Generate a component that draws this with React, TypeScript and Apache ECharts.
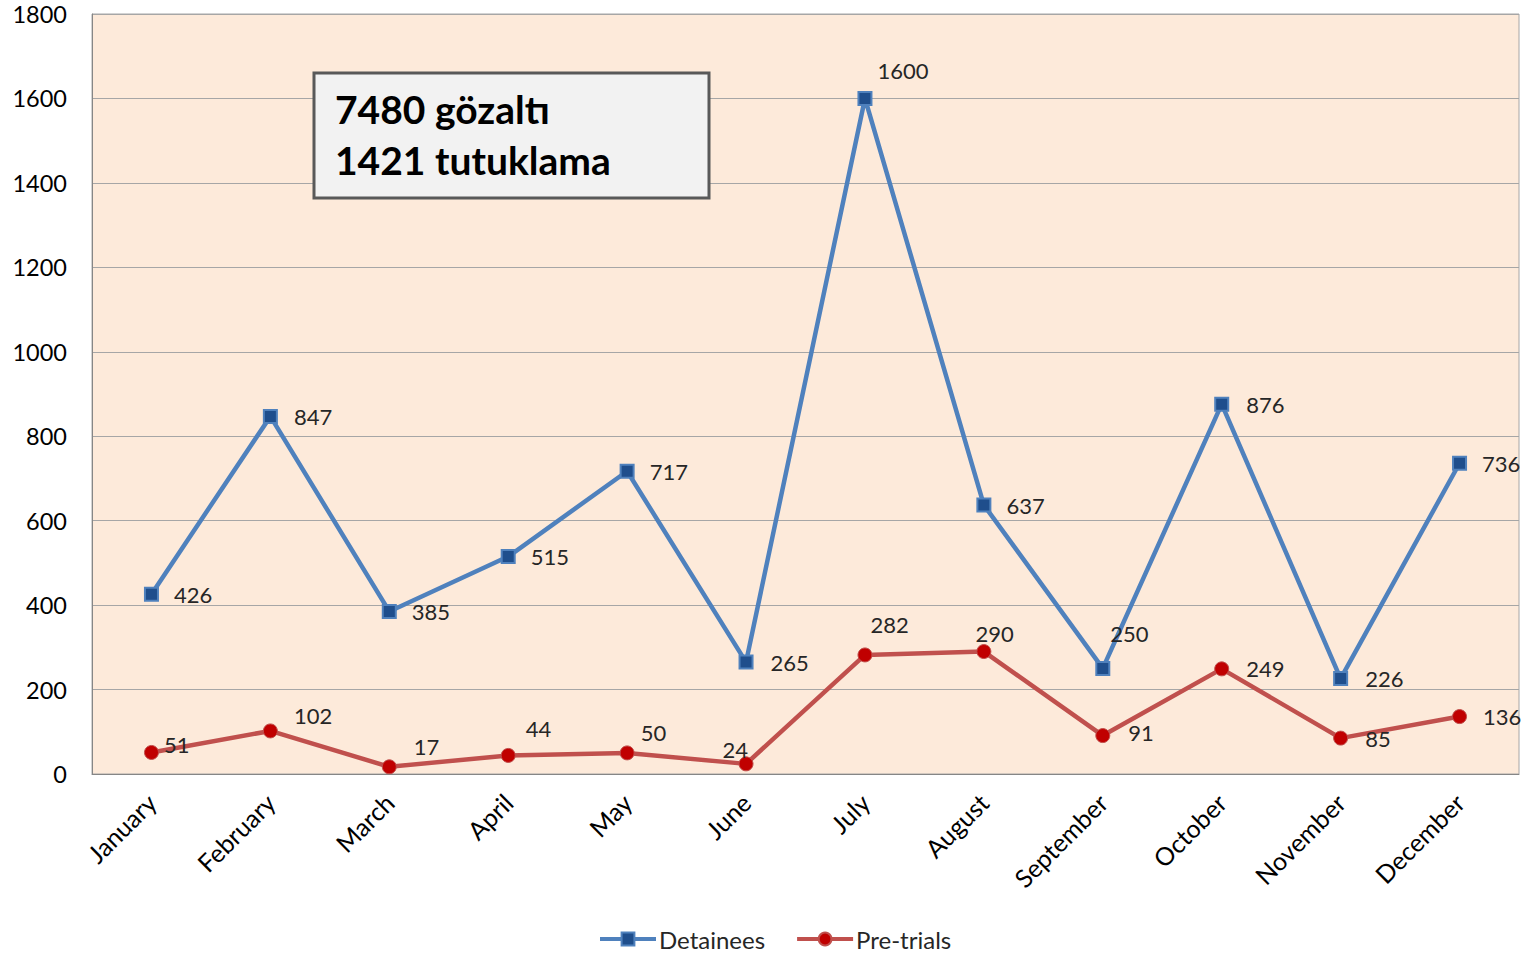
import React, { useEffect, useRef } from "react";
import * as echarts from "echarts";

const months = ["January", "February", "March", "April", "May", "June", "July", "August", "September", "October", "November", "December"];
const detainees = [426, 847, 385, 515, 717, 265, 1600, 637, 250, 876, 226, 736];
const preTrials = [51, 102, 17, 44, 50, 24, 282, 290, 91, 249, 85, 136];
const yTicks = { min: 0, max: 1800, interval: 200 };
const boxLines = ["7480 gözaltı", "1421 tutuklama"];

// label offsets (style, not data)
const detDx = [21, 22, 21, 21, 21, 23, 11, 21, 6, 23, 23, 21];
const detDy = [0, 0, 0, 0, 0, 0, -28, 0, -35, 0, 0, 0];
const preDx = [11, 22, 23, 16, 12, -25, 4, -10, 24, 23, 23, 22];
const preDy = [-8, -15, -20, -27, -20, -14, -30, -18, -3, 0, 0, 0];

const FONT = "Lato, 'Noto Sans', sans-serif";

export default function App() {
  const ref = useRef<HTMLDivElement>(null);
  useEffect(() => {
    if (!ref.current) return;
    const chart = echarts.init(ref.current, null, { renderer: "svg" });
    const mkData = (vals: number[], dx: number[], dy: number[]) =>
      vals.map((v, i) => ({
        value: v,
        label: { offset: [dx[i] - 6, dy[i]] },
      }));
    const labelBase = {
      show: true,
      position: "right",
      distance: 0,
      color: "#262626",
      fontSize: 22,
      fontFamily: FONT,
    };
    chart.setOption({
      animation: false,
      textStyle: { fontFamily: FONT },
      grid: {
        left: 92,
        right: 7,
        top: 14,
        bottom: 183,
        show: true,
        backgroundColor: "#FDEADA",
        borderColor: "#A6A6A6",
        borderWidth: 1,
      },
      legend: {
        left: 593,
        top: 922,
        itemWidth: 56,
        itemHeight: 16,
        itemGap: 30,
        lineStyle: { width: 4 },
        textStyle: { fontSize: 24, color: "#262626", fontFamily: FONT, padding: [0, 0, 0, -2] },
        data: ["Detainees", "Pre-trials"],
      },
      xAxis: {
        type: "category",
        data: months,
        boundaryGap: true,
        axisLine: { lineStyle: { color: "#868686", width: 1 } },
        axisTick: { show: false },
        axisLabel: {
          rotate: 45,
          fontSize: 25,
          color: "#000",
          fontFamily: FONT,
          margin: 24,
          interval: 0,
        },
      },
      yAxis: {
        type: "value",
        min: yTicks.min,
        max: yTicks.max,
        interval: yTicks.interval,
        axisLine: { show: true, lineStyle: { color: "#868686" } },
        axisTick: { show: false },
        splitLine: { lineStyle: { color: "#A6A6A6", width: 1 } },
        axisLabel: {
          fontSize: 23.5,
          color: "#000",
          fontFamily: FONT,
          margin: 25,
          formatter: (v: number) => String(v),
        },
      },
      series: [
        {
          name: "Detainees",
          type: "line",
          data: mkData(detainees, detDx, detDy),
          symbol: "rect",
          symbolSize: 13,
          lineStyle: { color: "#4F81BD", width: 4.5 },
          itemStyle: { color: "#1F4E8C", borderColor: "#4F81BD", borderWidth: 2 },
          label: labelBase,
          z: 3,
        },
        {
          name: "Pre-trials",
          type: "line",
          data: mkData(preTrials, preDx, preDy),
          symbol: "circle",
          symbolSize: 14,
          lineStyle: { color: "#C0504D", width: 4.5 },
          itemStyle: { color: "#C00000", borderColor: "#C0504D", borderWidth: 1 },
          label: labelBase,
          z: 3,
        },
      ],
      graphic: [
        {
          type: "rect",
          shape: { x: 314, y: 73, width: 395, height: 125 },
          style: { fill: "#F2F2F2", stroke: "#595959", lineWidth: 3 },
          z: 10,
        },
        {
          type: "text",
          x: 335,
          y: 109,
          style: {
            text: boxLines[0],
            fontSize: 39,
            fontWeight: "bold",
            fontFamily: FONT,
            fill: "#000",
            verticalAlign: "middle",
          },
          z: 11,
        },
        {
          type: "text",
          x: 335,
          y: 160,
          style: {
            text: boxLines[1],
            fontSize: 39,
            fontWeight: "bold",
            fontFamily: FONT,
            fill: "#000",
            verticalAlign: "middle",
          },
          z: 11,
        },
      ],
    });
    return () => chart.dispose();
  }, []);
  return (
    <div
      ref={ref}
      style={{ position: "fixed", left: 0, top: 0, width: 1526, height: 957, background: "#fff" }}
    />
  );
}
